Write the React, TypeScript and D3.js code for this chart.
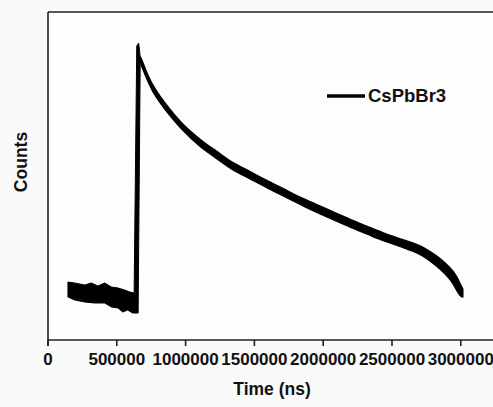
import React from "react";
import * as d3 from "d3";

// Noisy TRPL decay trace of CsPbBr3 drawn as its envelope (upper / lower edges of the noisy band)
const upperTime = [145000, 194000, 267000, 315000, 363000, 412000, 461000, 509000, 557000, 594000, 626000, 645000, 659000, 670000, 681000, 710000, 739000, 761000, 812000, 884000, 979000, 1102000, 1226000, 1342000, 1466000, 1589000, 1706000, 1829000, 1953000, 2069000, 2192000, 2316000, 2432000, 2556000, 2650000, 2716000, 2774000, 2832000, 2897000, 2941000, 2970000, 2999000, 3014000];
const upperCounts = [1740, 1710, 1650, 1710, 1620, 1710, 1590, 1560, 1500, 1440, 1410, 8820, 8910, 8490, 8400, 8100, 7830, 7650, 7320, 6930, 6480, 6030, 5655, 5325, 5055, 4785, 4545, 4290, 4059, 3849, 3624, 3414, 3219, 3039, 2910, 2796, 2655, 2490, 2265, 2070, 1890, 1650, 1530];

const lowerTime = [145000, 194000, 267000, 339000, 412000, 461000, 509000, 543000, 579000, 615000, 655000, 670000, 681000, 710000, 739000, 761000, 812000, 884000, 979000, 1102000, 1226000, 1342000, 1466000, 1589000, 1706000, 1829000, 1953000, 2069000, 2192000, 2316000, 2432000, 2556000, 2650000, 2716000, 2774000, 2832000, 2897000, 2941000, 2970000, 2999000, 3014000];
const lowerCounts = [1290, 1200, 1140, 1110, 1110, 990, 960, 840, 900, 810, 810, 8340, 8220, 7920, 7650, 7470, 7140, 6750, 6300, 5820, 5445, 5115, 4845, 4575, 4335, 4080, 3831, 3621, 3396, 3186, 2991, 2811, 2670, 2544, 2385, 2190, 1935, 1710, 1500, 1320, 1290];

const xTicks = [0, 500000, 1000000, 1500000, 2000000, 2500000, 3000000];
const seriesName = "CsPbBr3";
const xTitle = "Time (ns)";
const yTitle = "Counts";

const W = 493;
const H = 407;
const left = 48;
const top = 12;
const bottom = 340;
const FONT = "'Liberation Sans', Arial, Helvetica, sans-serif";

export default function App() {
  const x = d3.scaleLinear().domain([0, 3250000]).range([left, left + 6.5 * 68.8]);
  const y = d3.scaleLinear().domain([0, 9840]).range([bottom, top]);

  // baseline + rising edge (linear polygon up to the start of the decay)
  const decayStart = 670000;
  const pts: [number, number][] = [];
  upperTime.forEach((t, i) => {
    if (t <= decayStart) pts.push([t, upperCounts[i]]);
  });
  for (let i = lowerTime.length - 1; i >= 0; i--) {
    if (lowerTime[i] <= decayStart) pts.push([lowerTime[i], lowerCounts[i]]);
  }
  const line = d3
    .line<[number, number]>()
    .x((d) => x(d[0]))
    .y((d) => y(d[1]));
  const risePath = line(pts) + "Z";

  // decay band (shared times from decayStart onward)
  const decay: { t: number; hi: number; lo: number }[] = [];
  upperTime.forEach((t, i) => {
    if (t >= decayStart) {
      const j = lowerTime.indexOf(t);
      if (j >= 0) decay.push({ t, hi: upperCounts[i], lo: lowerCounts[j] });
    }
  });
  const area = d3
    .area<{ t: number; hi: number; lo: number }>()
    .x((d) => x(d.t))
    .y0((d) => y(d.lo))
    .y1((d) => y(d.hi))
    .curve(d3.curveCatmullRom.alpha(0.5));
  const decayPath = area(decay) || "";

  const right = x.range()[1];

  return (
    <svg
      width={W}
      height={H}
      style={{ position: "absolute", left: 0, top: 0, background: "#fafafa" }}
    >
      <rect x={0} y={0} width={W} height={H} fill="#fafafa" />
      <rect x={left} y={top} width={right - left} height={bottom - top} fill="#fdfdfd" />
      {/* frame */}
      <line x1={left} x2={right} y1={top} y2={top} stroke="#222" strokeWidth={1.6} />
      <line x1={left} x2={left} y1={top} y2={bottom + 6} stroke="#222" strokeWidth={1.6} />
      <line x1={left} x2={right} y1={bottom} y2={bottom} stroke="#222" strokeWidth={1.6} />
      {xTicks.map((t) => (
        <g key={t}>
          <line x1={x(t)} x2={x(t)} y1={bottom} y2={bottom + 6} stroke="#222" strokeWidth={1.6} />
          <text
            x={x(t)}
            y={365}
            textAnchor="middle"
            fontFamily={FONT}
            fontWeight="bold"
            fontSize={17}
            fill="#111"
          >
            {t}
          </text>
        </g>
      ))}
      {/* data band */}
      <path d={risePath} fill="#000" stroke="#000" strokeWidth={1} strokeLinejoin="round" />
      <path d={decayPath} fill="#000" stroke="#000" strokeWidth={1.6} strokeLinejoin="round" />
      {/* legend */}
      <line x1={327} x2={365} y1={96} y2={96} stroke="#000" strokeWidth={3.5} />
      <text x={368} y={101.5} fontFamily={FONT} fontWeight="bold" fontSize={18.5} fill="#111">
        {seriesName}
      </text>
      {/* titles */}
      <text
        x={272}
        y={395}
        textAnchor="middle"
        fontFamily={FONT}
        fontWeight="bold"
        fontSize={17.5}
        fill="#111"
      >
        {xTitle}
      </text>
      <text
        transform={`translate(27,162) rotate(-90)`}
        textAnchor="middle"
        fontFamily={FONT}
        fontWeight="bold"
        fontSize={17.5}
        fill="#111"
      >
        {yTitle}
      </text>
    </svg>
  );
}
